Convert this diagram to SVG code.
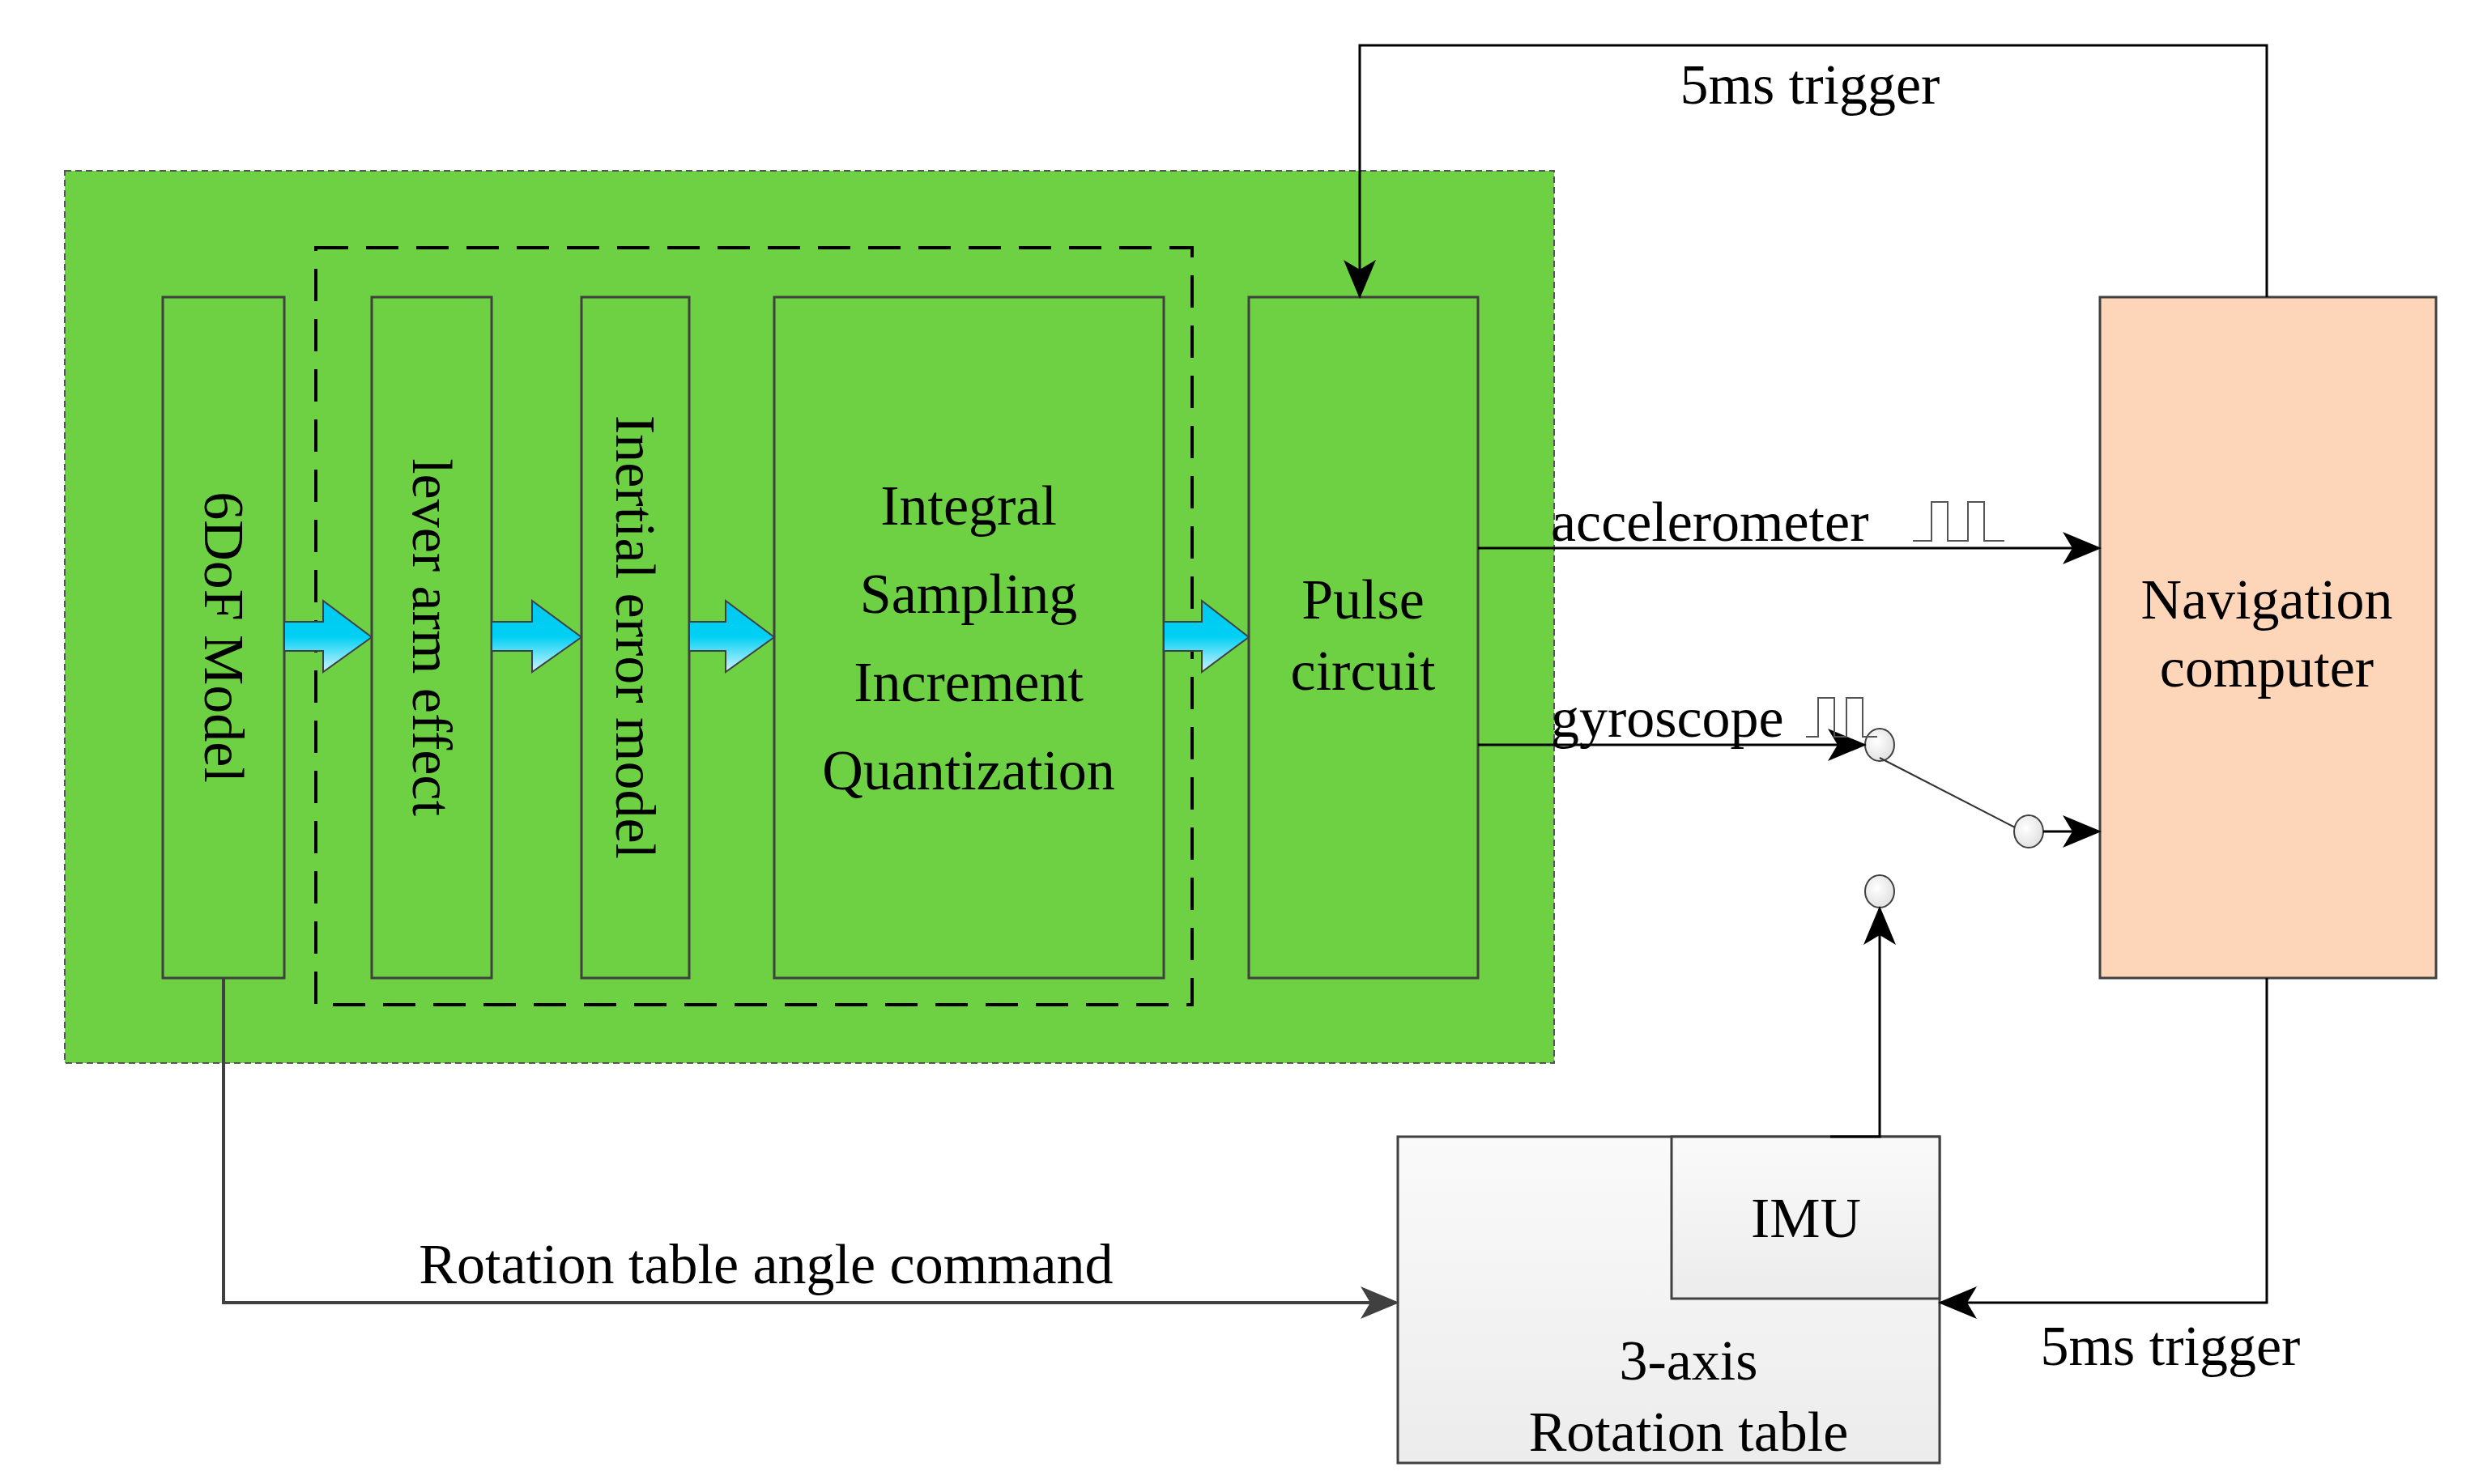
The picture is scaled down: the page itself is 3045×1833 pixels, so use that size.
<svg xmlns="http://www.w3.org/2000/svg" width="3045" height="1833" viewBox="0 0 3045 1833">
<style>
text{font-family:"Liberation Serif","DejaVu Serif",serif;font-size:70px;fill:#000}
.box{fill:#6dd143;stroke:#404040;stroke-width:3}
.ln{fill:none;stroke:#000;stroke-width:3}
.dk{fill:none;stroke:#404040;stroke-width:4}
.sw{fill:url(#gc);stroke:#404040;stroke-width:2}
.ba{fill:url(#ga);stroke:#404040;stroke-width:2}
</style>
<defs>
<linearGradient id="ga" x1="0" y1="0" x2="0" y2="1"><stop offset="0" stop-color="#00c8f0"/><stop offset="0.5" stop-color="#00d0f4"/><stop offset="1" stop-color="#d0f4ff"/></linearGradient>
<linearGradient id="gt" x1="0" y1="0" x2="0" y2="1"><stop offset="0" stop-color="#fafafa"/><stop offset="1" stop-color="#ececec"/></linearGradient>
<radialGradient id="gc" cx="0.4" cy="0.4" r="0.7"><stop offset="0" stop-color="#fff"/><stop offset="1" stop-color="#ddd"/></radialGradient>
<marker id="ah" markerWidth="12" markerHeight="10" refX="11" refY="5" orient="auto" markerUnits="userSpaceOnUse" viewBox="0 0 12 10"><path d="M0,0 L12,5 L0,10 L3,5 Z" fill="#000"/></marker>
<marker id="am" viewBox="0 0 12 10" refX="11" refY="5" markerWidth="48" markerHeight="40" orient="auto" markerUnits="userSpaceOnUse"><path d="M0,0 L12,5 L0,10 L3,5 Z" fill="#000"/></marker>
<marker id="amd" viewBox="0 0 12 10" refX="11" refY="5" markerWidth="48" markerHeight="40" orient="auto" markerUnits="userSpaceOnUse"><path d="M0,0 L12,5 L0,10 L3,5 Z" fill="#404040"/></marker>
</defs>
<rect width="3045" height="1833" fill="#fff"/>
<g id="sim-group">
<rect x="80" y="211" width="1839" height="1102" fill="#6dd143" stroke="#555" stroke-width="2" stroke-dasharray="8,5"/>
<rect x="390" y="306" width="1082" height="935" fill="none" stroke="#000" stroke-width="4" stroke-dasharray="40,22"/>
</g>
<g id="n6dof"><rect class="box" x="201" y="367" width="150" height="841"/><text transform="translate(276,787) rotate(90)" text-anchor="middle" dominant-baseline="central">6DoF Model</text></g>
<g id="lever"><rect class="box" x="459" y="367" width="148" height="841"/><text transform="translate(533,787) rotate(90)" text-anchor="middle" dominant-baseline="central">lever arm effect</text></g>
<g id="inertial"><rect class="box" x="718" y="367" width="133" height="841"/><text transform="translate(784,787) rotate(90)" text-anchor="middle" dominant-baseline="central">Inertial error model</text></g>
<g id="integral"><rect class="box" x="956" y="367" width="481" height="841"/>
<text x="1196" y="648" text-anchor="middle">Integral</text><text x="1196" y="757" text-anchor="middle">Sampling</text><text x="1196" y="866" text-anchor="middle">Increment</text><text x="1196" y="975" text-anchor="middle">Quantization</text></g>
<g id="pulse"><rect class="box" x="1542" y="367" width="283" height="841"/><text x="1683" y="764" text-anchor="middle">Pulse</text><text x="1683" y="852" text-anchor="middle">circuit</text></g>
<g id="nav"><rect x="2593" y="367" width="415" height="841" fill="#fdd5b8" stroke="#404040" stroke-width="3"/><text x="2799" y="764" text-anchor="middle">Navigation</text><text x="2799" y="848" text-anchor="middle">computer</text></g>
<g id="table"><rect x="1726" y="1404" width="669" height="403" fill="url(#gt)" stroke="#404040" stroke-width="3"/><text x="2085" y="1704" text-anchor="middle">3-axis</text><text x="2085" y="1792" text-anchor="middle">Rotation table</text></g>
<g id="imu"><rect x="2064" y="1404" width="331" height="200" fill="url(#gt)" stroke="#404040" stroke-width="3"/><text x="2230" y="1528" text-anchor="middle">IMU</text></g>
<g id="switch">
<ellipse class="sw" cx="2321" cy="920" rx="18" ry="20"/>
<ellipse class="sw" cx="2505" cy="1027" rx="18" ry="20"/>
<ellipse class="sw" cx="2321" cy="1101" rx="18" ry="20"/>
<line x1="2321" y1="936" x2="2488" y2="1022" stroke="#333" stroke-width="2"/>
</g>
<g id="connectors">
<path class="ba" d="M351,768 H399 V742 L459,787 L399,830 V804 H351 Z"/>
<path class="ba" d="M607,768 H657 V742 L718,787 L657,830 V804 H607 Z"/>
<path class="ba" d="M851,768 H896 V742 L956,787 L896,830 V804 H851 Z"/>
<path class="ba" d="M1437,768 H1484 V742 L1542,787 L1484,830 V804 H1437 Z"/>
<path class="ln" d="M2799,367 V56 H1679 V365" marker-end="url(#am)"/>
<text x="2235" y="128" text-anchor="middle">5ms trigger</text>
<path class="ln" d="M1825,677 H2591" marker-end="url(#am)"/>
<text x="1915" y="668">accelerometer</text>
<path d="M2362,668 H2385 V620 H2405 V668 H2430 V620 H2450 V668 H2475" fill="none" stroke="#555" stroke-width="2"/>
<path class="ln" d="M1825,920 H2301" marker-end="url(#am)"/>
<text x="1915" y="910">gyroscope</text>
<path d="M2230,910 H2245 V862 H2265 V910 H2280 V862 H2300 V910 H2318" fill="none" stroke="#555" stroke-width="2"/>
<path class="ln" d="M2523,1027 H2591" marker-end="url(#am)"/>
<path class="ln" d="M2260,1404 H2321 V1123" marker-end="url(#am)"/>
<path class="ln" d="M2799,1208 V1609 H2397" marker-end="url(#am)"/>
<text x="2680" y="1686" text-anchor="middle">5ms trigger</text>
<path class="dk" d="M276,1208 V1609 H1724" marker-end="url(#amd)"/>
<text x="946" y="1585" text-anchor="middle">Rotation table angle command</text>
</g>
</svg>
